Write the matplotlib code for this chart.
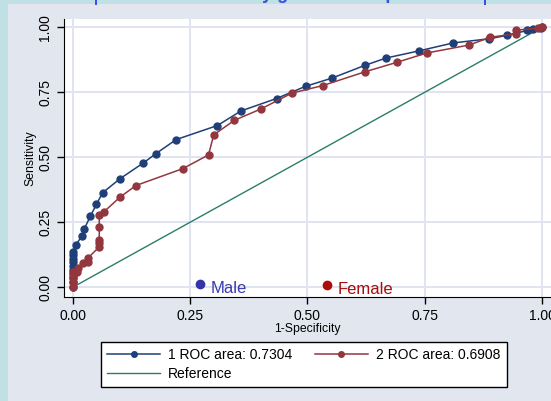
import numpy as np
import matplotlib
matplotlib.use("Agg")
import matplotlib.pyplot as plt
from matplotlib.lines import Line2D
from matplotlib.patches import Rectangle

plt.rcParams['font.family'] = ['Liberation Sans', 'DejaVu Sans']

# ROC points (1-specificity, sensitivity)
male_fpr = [0, 0, 0, 0, 0, 0, 0, 0, 0, 0, 0.006, 0.019, 0.024, 0.037, 0.05, 0.063,
            0.10, 0.15, 0.177, 0.22, 0.308, 0.358, 0.434, 0.496, 0.553, 0.623, 0.668,
            0.737, 0.811, 0.888, 0.925, 0.969, 0.98, 0.998, 1.0]
male_sens = [0, 0.02, 0.035, 0.05, 0.065, 0.08, 0.095, 0.11, 0.123, 0.136, 0.163, 0.196,
             0.224, 0.273, 0.319, 0.363, 0.417, 0.478, 0.514, 0.568, 0.622, 0.678, 0.726,
             0.773, 0.805, 0.854, 0.882, 0.909, 0.94, 0.956, 0.969, 0.988, 0.995, 0.999, 1.0]

female_fpr = [0, 0, 0, 0, 0.009, 0.011, 0.022, 0.033, 0.033, 0.056, 0.056, 0.056, 0.056,
              0.056, 0.066, 0.10, 0.134, 0.234, 0.289, 0.30, 0.344, 0.401, 0.467, 0.533,
              0.623, 0.69, 0.754, 0.845, 0.89, 0.945, 0.945, 0.991, 1.0]
female_sens = [0, 0.02, 0.04, 0.058, 0.059, 0.072, 0.094, 0.097, 0.114, 0.155, 0.168, 0.18,
               0.232, 0.277, 0.29, 0.346, 0.391, 0.456, 0.509, 0.586, 0.642, 0.686, 0.747,
               0.776, 0.829, 0.865, 0.901, 0.932, 0.962, 0.975, 0.989, 0.997, 1.0]

ref_line = [0, 1]
ticks = [0, 0.25, 0.5, 0.75, 1.0]
tick_labels = ['0.00', '0.25', '0.50', '0.75', '1.00']
legend_labels = ['1 ROC area: 0.7304', '2 ROC area: 0.6908', 'Reference']
title_text = 'ROC curve by gender: comparison'

navy = '#1f3f78'
maroon = '#93363d'
green = '#2b7d6a'

fig = plt.figure(figsize=(5.51, 4.01), dpi=100)
fig.patch.set_facecolor('#bfe1e5')
fig.patches.append(Rectangle((8/551, 0), 1, 397/401, transform=fig.transFigure,
                             facecolor='#e2e6ef', edgecolor='none', zorder=-2))
# cut-off title strip at the top
for bx in [95, 484]:
    fig.patches.append(Rectangle((bx/551, 396/401), 2/551, 5/401, transform=fig.transFigure,
                                 facecolor='#3c50e6', edgecolor='none', zorder=-1))
fig.text(302/551, 1.003, title_text, color='#3c50d8', fontsize=13, fontweight='bold',
         ha='center', va='baseline')

ax = fig.add_axes([64/551, 1 - 297/401, 487/551, 278/401])
ax.set_zorder(1)
ax.set_facecolor('white')

ax.plot(male_fpr, male_sens, '-o', color=navy, lw=1.1, ms=5, zorder=3)
ax.plot(female_fpr, female_sens, '-o', color=maroon, lw=1.1, ms=5, zorder=3)
ax.plot(ref_line, ref_line, '-', color=green, lw=1.0, zorder=2)

ax.plot([0.271], [0.011], 'o', color='#3535a8', ms=6, zorder=4, clip_on=False)
ax.text(0.294, -0.005, 'Male', color='#3a3ab0', fontsize=12, va='center', ha='left')
ax.plot([0.541], [0.007], 'o', color='#a80c0c', ms=6, zorder=4, clip_on=False)
ax.text(0.565, -0.008, 'Female', color='#a80c0c', fontsize=12, va='center', ha='left')

ax.set_xlim(-0.0192, 1.0192)
ax.set_ylim(-0.038, 1.032)
ax.set_xticks(ticks)
ax.set_xticklabels(tick_labels)
ax.set_yticks(ticks)
ax.set_yticklabels(tick_labels, rotation=90, va='center')
ax.tick_params(direction='out', length=5, width=1, labelsize=10, colors='black')
ax.grid(True, color='#dfe4f0', lw=1.4)
ax.set_axisbelow(True)
for s in ['top', 'right']:
    ax.spines[s].set_visible(False)
ax.set_xlabel('1-Specificity', fontsize=8.8, labelpad=0)
ax.set_ylabel('Sensitivity', fontsize=8.8, labelpad=1)

handles = [Line2D([], [], color=navy, marker='o', ms=4, lw=1.1),
           Line2D([], [], color=maroon, marker='o', ms=4, lw=1.1),
           Line2D([], [], color=green, lw=1.0)]
leg = fig.legend([handles[0], handles[2], handles[1]],
                 [legend_labels[0], legend_labels[2], legend_labels[1]],
                 ncol=2, loc='upper left', bbox_to_anchor=(101/551, 1 - 342/401),
                 fontsize=10, frameon=True, fancybox=False, edgecolor='black',
                 framealpha=1, handlelength=3.8, handletextpad=0.6, columnspacing=1.6,
                 labelspacing=0.35, borderpad=0.45, borderaxespad=0)
leg.get_frame().set_linewidth(1.0)

fig.savefig('out.png', dpi=100, facecolor=fig.get_facecolor())
